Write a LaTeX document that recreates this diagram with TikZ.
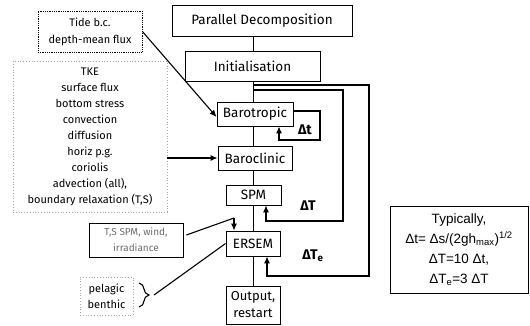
\documentclass[tikz,border=0pt]{standalone}
\usepackage{fontspec}
\setmainfont{Fira Sans}
\newfontfamily\arialfont{Liberation Sans}
\usetikzlibrary{arrows.meta,decorations.pathreplacing}
\tikzset{
  mainbox/.style={draw=black, line width=0.9pt, inner sep=0pt, align=center, font=\fontsize{13.5}{15}\selectfont},
  sidebox/.style={inner sep=0pt, align=center},
  conn/.style={line width=1.1pt},
  arr/.style={line width=1.1pt, -{Latex[length=7pt,width=6pt]}},
  looplab/.style={font=\bfseries\fontsize{14}{16}\selectfont},
}
\begin{document}
\begin{tikzpicture}[x=1pt,y=-1pt]
\useasboundingbox (0,0) rectangle (530,325);
% main column
\node[mainbox, minimum width=180, minimum height=31] (pd) at (262,20.5) {Parallel Decomposition};
\node[mainbox, minimum width=135, minimum height=30] (init) at (252.5,66) {Initialisation};
\node[mainbox, minimum width=76, minimum height=24] (baro) at (255,114) {Barotropic};
\node[mainbox, minimum width=74, minimum height=24] (bcl) at (255,158) {Baroclinic};
\node[mainbox, minimum width=55, minimum height=20] (spm) at (253.5,195) {SPM};
\node[mainbox, minimum width=54, minimum height=25] (ersem) at (253,243.5) {ERSEM};
\node[mainbox, minimum width=54, minimum height=38, font=\fontsize{13}{17}\selectfont] (out) at (253,305) {Output,\\restart};
% spine
\draw[line width=0.8pt] (init.north -| 253,0) -- (pd.south -| 253,0);
\draw[line width=0.8pt] (253,81) -- (baro.north -| 253,0);
\draw[line width=0.8pt] (baro.south -| 253,0) -- (bcl.north -| 253,0);
\draw[line width=0.8pt] (bcl.south -| 253,0) -- (spm.north -| 253,0);
\draw[line width=0.8pt] (spm.south -| 253,0) -- (ersem.north -| 253,0);
\draw[line width=0.8pt] (ersem.south -| 253,0) -- (out.north -| 253,0);
% loops
\coordinate (ostart) at (253,85);
\coordinate (istart) at (253,90);
\draw[arr] (ostart) -- (369,85) -- (369,276) -- (267,276) -- (ersem.south -| 267,0);
\draw[arr] (istart) -- (343,90) -- (343,221) -- (266,221) -- (spm.south -| 266,0);
\draw[arr] (baro.east |- 0,111) -- (320,111) -- (320,140) -- (279,140) -- (baro.south -| 279,0);
\node[looplab] (dt) at (305,130) {Δt};
\node[looplab] (dT) at (308,206) {ΔT};
\node[looplab] (dTe) at (313,256) {ΔT\textsubscript{e}};
% Tide box
\node[sidebox, draw, densely dotted, line width=0.8pt, minimum width=104, minimum height=41, font=\fontsize{11}{17}\selectfont] (tide) at (90,31.5) {Tide b.c.\\depth-mean flux};
\draw[arr] (tide.east) -- (baro.west |- 0,117);
% TKE box
\node[sidebox, draw=gray!70, dotted, line width=0.8pt, minimum width=154, minimum height=151, font=\fontsize{11}{16}\selectfont] (tke) at (90,136.5) {TKE\\surface flux\\bottom stress\\convection\\diffusion\\horiz p.g.\\coriolis\\advection (all),\\boundary relaxation (T,S)};
\draw[arr] (tke.east |- bcl) -- (bcl.west);
% T,S box
\node[sidebox, draw, line width=0.8pt, minimum width=94, minimum height=34, text=gray!85!black, font=\fontsize{10}{16}\selectfont] (ts) at (136,240) {T,S SPM, wind,\\irradiance};
\coordinate (tsbend) at (234,218);
\draw[conn] ([xshift=3pt,yshift=5pt]ts.east) -- (tsbend);
\draw[arr] (tsbend) -- (ersem.north -| tsbend);
% pelagic box
\node[sidebox, draw=gray!70, dotted, line width=0.8pt, minimum width=53, minimum height=38, font=\fontsize{11}{16}\selectfont] (pel) at (106.5,296) {pelagic\\benthic};
\draw[line width=1.1pt, decorate, decoration={brace, amplitude=10pt, aspect=0.5}] (139,283) -- (139,307);
\coordinate (btip) at (154,295);
\draw[conn] (btip) -- (ersem.west);
% Typically box
\node[sidebox, draw, line width=0.9pt, minimum width=138, minimum height=87, font=\arialfont\fontsize{13.5}{20}\selectfont] (typ) at (459,249.5) {Typically,\\Δt= Δs/(2gh\textsubscript{max})\textsuperscript{1/2}\\ΔT=10 Δt,\\ΔT\textsubscript{e}=3 ΔT};
\end{tikzpicture}
\end{document}
